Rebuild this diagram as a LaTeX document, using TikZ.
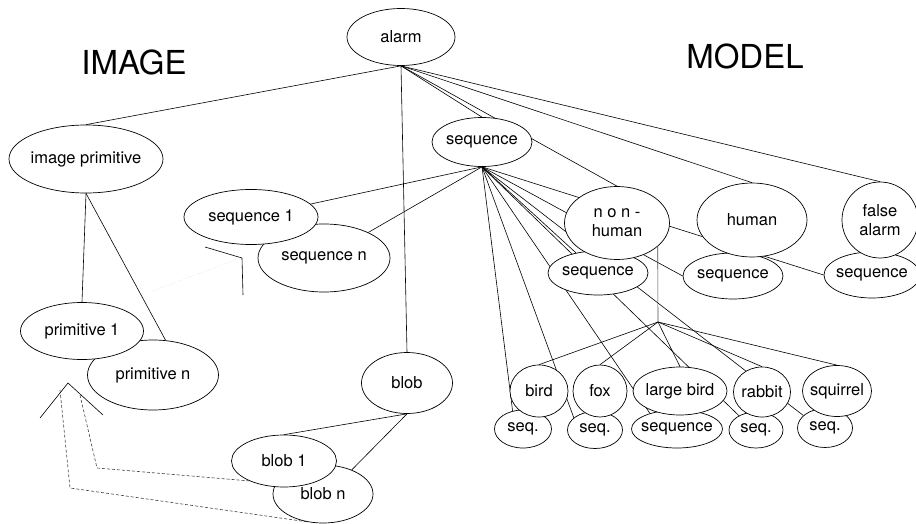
\documentclass[tikz,border=0pt]{standalone}
\usepackage{fontspec}
\setmainfont{TeX Gyre Heros}
\usetikzlibrary{shapes.geometric,backgrounds}

\begin{document}
\begin{tikzpicture}[x=1pt, y=-1pt, font=\fontsize{16.5}{19}\selectfont,
    obj/.style={ellipse, draw, fill=white, line width=0.7pt, inner xsep=-6pt,
      inner ysep=0pt, align=center},
    link/.style={line width=0.6pt},
    trace/.style={line width=0.6pt, dash pattern=on 3pt off 2pt, black!75},
    heading/.style={font=\fontsize{33}{36}\selectfont}]
  \useasboundingbox (0,0) rectangle (916,524);
  \node[heading] (image) at (134,62) {IMAGE};
  \node[heading] (model) at (745,56) {MODEL};
  % the lower ellipse of each pair first, so the upper one lies on it
  \foreach \n/\x/\y/\w/\h/\t in {seqn/324/258/132/68/{sequence n},
      primn/153/375/131/70/{primitive n}, blobn/323/494/100/58/{blob n},
      nhseq/598/273/100/44/sequence, hseq/733/276/100/46/sequence,
      faseq/872/275/96/46/sequence, birdseq/523/429/57/38/seq.,
      foxseq/595/430/55/37/seq., lbirdseq/677/429/91/38/sequence,
      rabbitseq/756/430/54/36/seq., squirrelseq/825/428/55/39/seq.} {
    \node[obj, minimum width=\w, minimum height=\h] (\n) at (\x,\y) {\t};
  }
  \foreach \n/\x/\y/\w/\h/\t in {alarm/401/37/108/57/alarm,
      imgprim/86/159/154/68/{image primitive}, seq/482/142/100/49/sequence,
      nonhuman/617/223/105/73/{n o n -\\human}, human/752/220/110/74/human,
      falsealarm/880/220/76/76/{false\\alarm}, seqone/251/217/134/55/{sequence 1},
      primone/82/331/123/57/{primitive 1}, blob/407/383/91/61/blob,
      blobone/284/461/105/52/{blob 1}, bird/539/391/58/52/bird,
      fox/600/391/54/52/fox, lbird/680/391/94/48/{large bird},
      rabbit/762/392/57/50/rabbit, squirrel/837/391/69/51/squirrel} {
    \node[obj, minimum width=\w, minimum height=\h] (\n) at (\x,\y) {\t};
  }
  \coordinate (nhjoin) at (658,322);
  \coordinate (back1) at (80,395);
  \coordinate (back2) at (60,390);

  \begin{scope}[on background layer]
    \foreach \a/\b in {alarm.south/imgprim.north, alarm.south/seq.north,
        alarm.south/nonhuman.north, alarm.south/human.north,
        alarm.south/falsealarm.north, alarm.south/blob.north,
        imgprim.south/primone.north, imgprim.south/primn.70,
        seq.south/seqone, seq.south/seqn, seq.south/nhseq,
        seq.south/hseq.west, seq.south/faseq.west, seq.south/birdseq.120,
        seq.south/foxseq.150, seq.south/lbirdseq.150,
        seq.south/rabbitseq.140, seq.south/squirrelseq.150,
        blob.south/blobone.north, blob.south/blobn.40}
      \draw[link] (\a) -- (\b);
    \draw[link, black!70] (nonhuman.-30) -- (nhjoin);
    \foreach \n in {bird,fox,lbird,rabbit,squirrel}
      \draw[link] (nhjoin) -- (\n.north);
    % traces back to the primitives
    \draw[trace] (blobone.210) -- (97,468) -- (back1);
    \draw[trace] (blobn.240) -- (70,488) -- (back2);
    \draw[link] (40,418) -- (68,383) -- (103,415);
    \draw[link] (205,247) -- (242,258) -- (243,295);
    \draw[black!25, dotted] (150,292) -- (240,258);
  \end{scope}
\end{tikzpicture}
\end{document}
